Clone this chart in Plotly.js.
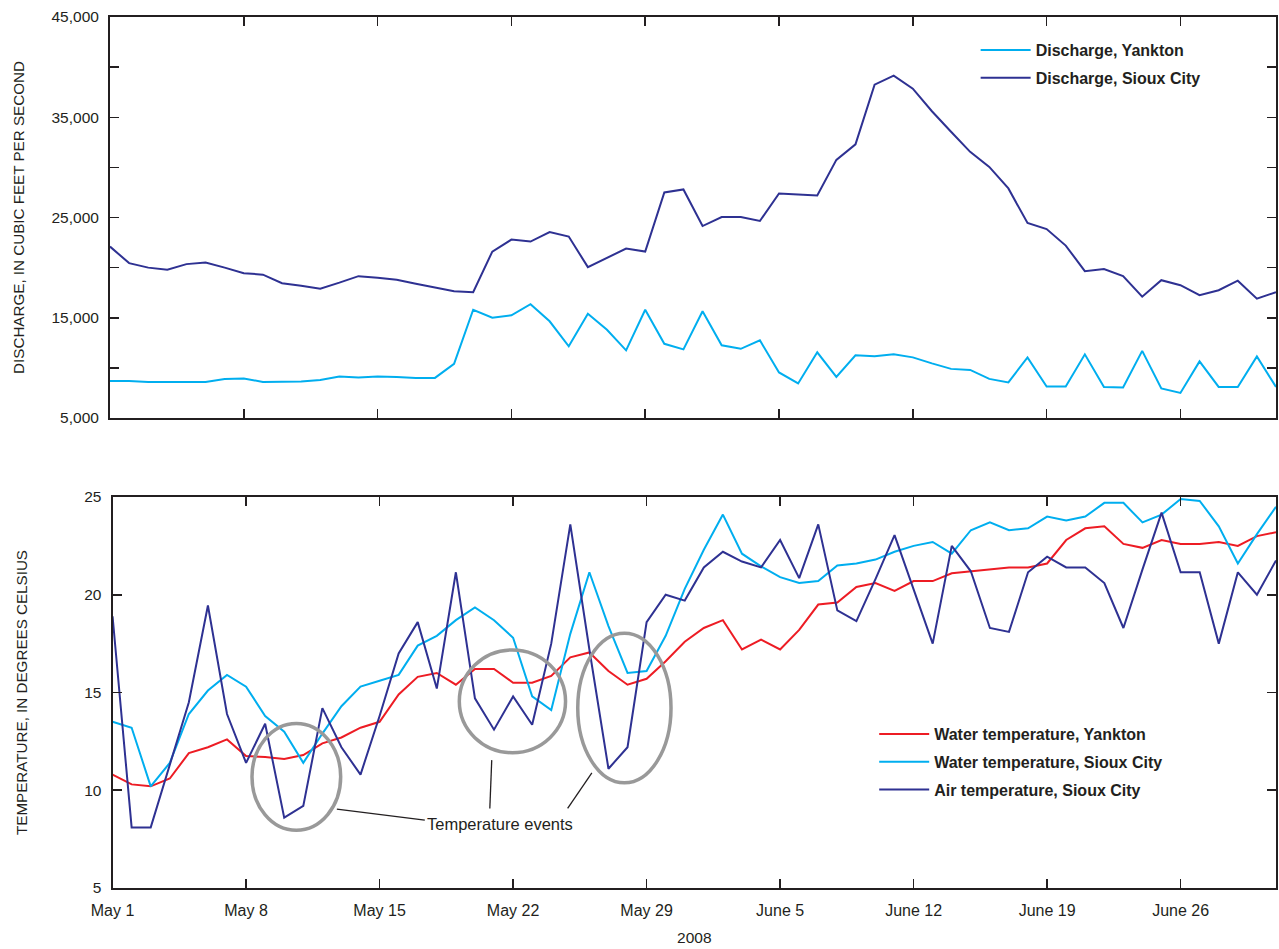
<!DOCTYPE html>
<html>
<head>
<meta charset="utf-8">
<script src="https://cdn.plot.ly/plotly-3.0.1.min.js"></script>
<style>html,body{margin:0;padding:0;background:#fff;}#chart{width:1279px;height:949px;}</style>
</head>
<body>
<div id="chart"></div>
<script>
// ---- Data (daily values, May 1 – July 1, 2008) ----
var startDate = '2008-05-01';
var dayCount = 62;

var dischargeYankton = [8700, 8700, 8600, 8600, 8600, 8600, 8900, 8950, 8600, 8600,
  8650, 8800, 9150, 9050, 9150, 9100, 9000, 9000, 10400, 15800,
  15000, 15250, 16350, 14650, 12150, 15400, 13800, 11750, 15800, 12400,
  11850, 15650, 12250, 11900, 12750, 9550, 8450, 11550, 9100, 11250,
  11150, 11350, 11050, 10450, 9900, 9800, 8900, 8550, 11050, 8150,
  8150, 11350, 8100, 8050, 11700, 7950, 7500, 10650, 8100, 8100,
  11150, 8100];

var dischargeSiouxCity = [22100, 20450, 20000, 19800, 20350, 20500, 20000, 19450, 19300, 18450,
  18200, 17900, 18500, 19150, 19000, 18800, 18400, 18050, 17650, 17550,
  21600, 22800, 22600, 23550, 23100, 20050, 20950, 21900, 21600, 27500,
  27800, 24150, 25050, 25050, 24650, 27400, 27300, 27200, 30750, 32300,
  38250, 39150, 37850, 35600, 33550, 31550, 30050, 27900, 24450, 23850,
  22200, 19650, 19850, 19150, 17100, 18750, 18250, 17250, 17750, 18700,
  16900, 17550];

var waterTempYankton = [10.8, 10.3, 10.2, 10.6, 11.9, 12.2, 12.6, 11.75, 11.7, 11.6,
  11.8, 12.4, 12.7, 13.2, 13.5, 14.9, 15.8, 16.0, 15.4, 16.2,
  16.2, 15.5, 15.5, 15.85, 16.8, 17.05, 16.1, 15.4, 15.7, 16.6,
  17.6, 18.3, 18.7, 17.2, 17.7, 17.2, 18.2, 19.5, 19.6, 20.4,
  20.6, 20.2, 20.7, 20.7, 21.1, 21.2, 21.3, 21.4, 21.4, 21.6,
  22.8, 23.4, 23.5, 22.6, 22.4, 22.8, 22.6, 22.6, 22.7, 22.5,
  23.0, 23.2];

var waterTempSiouxCity = [13.5, 13.2, 10.2, 11.4, 13.9, 15.1, 15.9, 15.3, 13.8, 13.0,
  11.4, 12.9, 14.3, 15.3, 15.6, 15.9, 17.4, 17.9, 18.7, 19.35,
  18.7, 17.8, 14.8, 14.1, 18.0, 21.15, 18.4, 16.0, 16.1, 17.9,
  20.3, 22.3, 24.1, 22.1, 21.45, 20.9, 20.6, 20.7, 21.5, 21.6,
  21.8, 22.2, 22.5, 22.7, 22.1, 23.3, 23.7, 23.3, 23.4, 24.0,
  23.8, 24.0, 24.7, 24.7, 23.7, 24.1, 24.9, 24.8, 23.5, 21.6,
  23.1, 24.5];

var airTempSiouxCity = [18.9, 8.1, 8.1, 11.3, 14.5, 19.45, 13.9, 11.4, 13.4, 8.6,
  9.2, 14.2, 12.2, 10.8, 13.8, 17.0, 18.6, 15.2, 21.15, 14.7,
  13.1, 14.8, 13.35, 17.5, 23.6, 17.2, 11.1, 12.2, 18.6, 20.0,
  19.7, 21.4, 22.2, 21.7, 21.4, 22.8, 20.85, 23.6, 19.2, 18.65,
  20.8, 23.05, 20.3, 17.5, 22.5, 21.2, 18.3, 18.1, 21.15, 21.95,
  21.4, 21.4, 20.6, 18.3, 21.3, 24.2, 21.15, 21.15, 17.5, 21.15,
  20.0, 21.75];

var tickDates = ['2008-05-01', '2008-05-08', '2008-05-15', '2008-05-22', '2008-05-29',
  '2008-06-05', '2008-06-12', '2008-06-19', '2008-06-26'];
var tickLabels = ['May 1', 'May 8', 'May 15', 'May 22', 'May 29',
  'June 5', 'June 12', 'June 19', 'June 26'];

var seriesNames = {
  dy: 'Discharge, Yankton',
  ds: 'Discharge, Sioux City',
  wy: 'Water temperature, Yankton',
  ws: 'Water temperature, Sioux City',
  as: 'Air temperature, Sioux City'
};

// ---- Helpers ----
var t0 = Date.parse(startDate + 'T00:00:00Z');
function dayToDate(d) {
  return new Date(t0 + d * 86400000).toISOString().replace('T', ' ').slice(0, 19);
}
var dates = [];
for (var i = 0; i < dayCount; i++) dates.push(dayToDate(i).slice(0, 10));

var NAVY = '#2e3192', CYAN = '#00aeef', RED = '#ed1c24', INK = '#231f20', GREY = '#999999';
var FONT = 'Liberation Sans, Arial, sans-serif';
var FS = 15.5;

var traces = [
  {x: dates, y: dischargeYankton, name: seriesNames.dy, type: 'scatter', mode: 'lines',
   line: {color: CYAN, width: 2}, xaxis: 'x', yaxis: 'y', legend: 'legend', legendgroup: 'g1'},
  {x: dates, y: dischargeSiouxCity, name: seriesNames.ds, type: 'scatter', mode: 'lines',
   line: {color: NAVY, width: 2}, xaxis: 'x', yaxis: 'y', legend: 'legend', legendgroup: 'g2'},
  {x: dates, y: waterTempYankton, name: seriesNames.wy, type: 'scatter', mode: 'lines',
   line: {color: RED, width: 2}, xaxis: 'x2', yaxis: 'y2', legend: 'legend2', legendgroup: 'g3'},
  {x: dates, y: waterTempSiouxCity, name: seriesNames.ws, type: 'scatter', mode: 'lines',
   line: {color: CYAN, width: 2}, xaxis: 'x2', yaxis: 'y2', legend: 'legend2', legendgroup: 'g4'},
  {x: dates, y: airTempSiouxCity, name: seriesNames.as, type: 'scatter', mode: 'lines',
   line: {color: NAVY, width: 2}, xaxis: 'x2', yaxis: 'y2', legend: 'legend2', legendgroup: 'g5'}
];

var axisCommon = {
  showline: true, linecolor: INK, linewidth: 2, mirror: 'ticks',
  ticks: 'inside', ticklen: 9, tickwidth: 1.5, tickcolor: INK,
  showgrid: false, zeroline: false,
  tickfont: {family: FONT, size: FS, color: INK}
};

function ext(a, b) { return Object.assign({}, a, b); }

var ellipses = [
  {d0: 7.31, d1: 11.96, y0: 7.95, y1: 13.42},
  {d0: 18.18, d1: 23.75, y0: 11.92, y1: 17.18},
  {d0: 24.39, d1: 29.28, y0: 10.38, y1: 18.03}
];
var leaders = [
  {d0: 11.76, v0: 9.03, d1: 16.37, v1: 8.47},
  {d0: 19.88, v0: 11.54, d1: 19.78, v1: 9.07},
  {d0: 25.13, v0: 10.89, d1: 23.86, v1: 9.07}
];
var shapes = [];
ellipses.forEach(function (e) {
  shapes.push({type: 'circle', xref: 'x2', yref: 'y2',
    x0: dayToDate(e.d0), x1: dayToDate(e.d1), y0: e.y0, y1: e.y1,
    line: {color: GREY, width: 3.5}});
});
leaders.forEach(function (l) {
  shapes.push({type: 'line', xref: 'x2', yref: 'y2',
    x0: dayToDate(l.d0), x1: dayToDate(l.d1), y0: l.v0, y1: l.v1,
    line: {color: INK, width: 1.3}});
});

var layout = {
  width: 1279, height: 949,
  margin: {l: 110, r: 3, t: 17, b: 61},
  paper_bgcolor: '#ffffff', plot_bgcolor: '#ffffff',
  font: {family: FONT, size: FS, color: INK},
  showlegend: true,
  hovermode: false,
  xaxis: ext(axisCommon, {
    type: 'date', domain: [0, 1], range: ['2008-05-01', '2008-07-01'],
    tickvals: tickDates, ticktext: tickLabels, showticklabels: false, anchor: 'y'
  }),
  yaxis: ext(axisCommon, {
    domain: [0.5396, 1], range: [5000, 45000], tick0: 5000, dtick: 5000, ticklabelstep: 2,
    tickformat: ',.0f', anchor: 'x', ticklabelstandoff: 6,
    title: {text: 'DISCHARGE, IN CUBIC FEET PER SECOND', font: {family: FONT, size: 15.2, color: INK}, standoff: 23}
  }),
  xaxis2: ext(axisCommon, {
    type: 'date', domain: [0.0022, 1], range: ['2008-05-01', '2008-07-01'],
    tickvals: tickDates, ticktext: tickLabels, anchor: 'y2', ticklabelstandoff: 7,
    tickfont: {family: FONT, size: 16, color: INK},
    title: {text: '2008', font: {family: FONT, size: FS, color: INK}, standoff: 14}
  }),
  yaxis2: ext(axisCommon, {
    domain: [0, 0.4489], range: [5, 25], tick0: 5, dtick: 5, anchor: 'x2', ticklabelstandoff: 6,
    title: {text: 'TEMPERATURE, IN DEGREES CELSIUS', font: {family: FONT, size: 15.2, color: INK}, standoff: 53}
  }),
  legend: {
    x: 0.7424, y: 0.9816, xanchor: 'left', yanchor: 'top', traceorder: 'grouped', tracegroupgap: 4,
    bgcolor: 'rgba(0,0,0,0)', borderwidth: 0, itemwidth: 50,
    font: {family: FONT, size: 16, color: INK, weight: 'bold'}
  },
  legend2: {
    x: 0.6554, y: 0.1963, xanchor: 'left', yanchor: 'top', traceorder: 'grouped', tracegroupgap: 4,
    bgcolor: 'rgba(0,0,0,0)', borderwidth: 0, itemwidth: 50,
    font: {family: FONT, size: 16, color: INK, weight: 'bold'}
  },
  shapes: shapes,
  annotations: [{
    xref: 'x2', yref: 'y2', x: dayToDate(20.33), y: 8.26,
    text: 'Temperature events', showarrow: false, xanchor: 'center', yanchor: 'middle',
    font: {family: FONT, size: 16.5, color: INK}
  }]
};

Plotly.newPlot('chart', traces, layout, {staticPlot: true, displayModeBar: false});
</script>
</body>
</html>
